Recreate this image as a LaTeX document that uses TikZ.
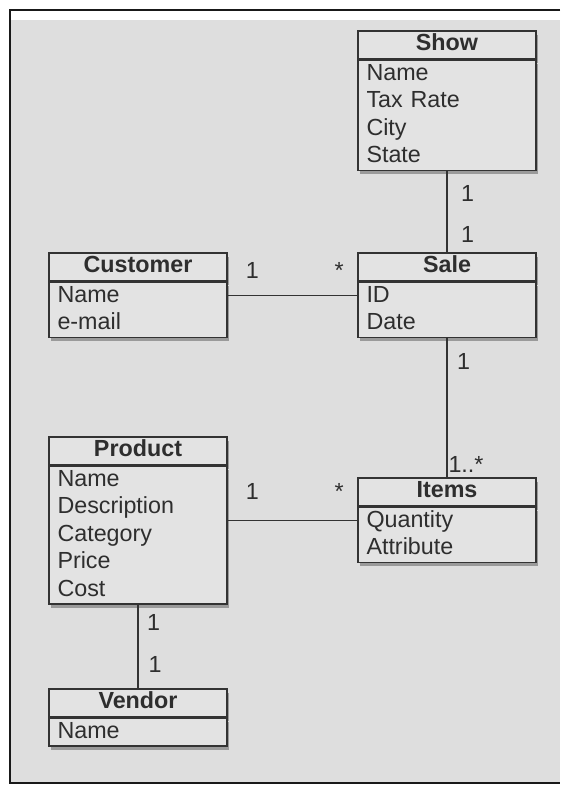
\documentclass[tikz,border=0pt]{standalone}
\usepackage{fontspec}
\setmainfont{Liberation Sans}
\usetikzlibrary{positioning,shadows}

\definecolor{bggray}{HTML}{DEDEDE}
\definecolor{boxgray}{HTML}{E3E3E3}
\definecolor{linegray}{HTML}{333333}
\definecolor{inkgray}{HTML}{2E2E2E}

\begin{document}
\begin{tikzpicture}[x=1pt, y=-1pt,
    every node/.style={font=\fontsize{23.3}{27.5}\selectfont, text=inkgray},
    boxshadow/.style={drop shadow={shadow xshift=1.5pt, shadow yshift=-4pt, opacity=.3, fill=black}},
    classhead/.style={draw=linegray, line width=1.4pt, fill=boxgray, boxshadow,
      minimum width=178pt, minimum height=28pt, inner sep=0pt,
      text height=16pt, text depth=4.5pt,
      font=\fontsize{23.3}{27.5}\selectfont\bfseries},
    classbody/.style={draw=linegray, line width=1.4pt, fill=boxgray, boxshadow,
      text width=161pt, inner xsep=8.5pt, inner ysep=0pt, align=left,
      text height=20pt, text depth=#1},
    link/.style={draw=linegray, line width=1.5pt},
    mult/.style={inner sep=0pt, anchor=base}]
    \useasboundingbox (0,0) rectangle (560,785);

    % Background and frame
    \fill[white] (10,10) rectangle (560,783);
    \fill[bggray] (11,20) rectangle (560,782);
    \draw[line width=2.5pt, black!90] (560,10) -- (10,10) -- (10,783) -- (560,783);

    % Classes
    \node[classhead] (showhead) at (447,45) {Show};
    \node[classbody=90pt, below=0pt of showhead] (showbody) {Name\\Tax Rate\\City\\State};

    \node[classhead] (custhead) at (138,267) {Customer};
    \node[classbody=35pt, below=0pt of custhead] (custbody) {Name\\e-mail};

    \node[classhead] (salehead) at (447,267) {Sale};
    \node[classbody=35pt, below=0pt of salehead] (salebody) {ID\\Date};

    \node[classhead] (prodhead) at (138,451) {Product};
    \node[classbody=117.5pt, below=0pt of prodhead] (prodbody) {Name\\Description\\Category\\Price\\Cost};

    \node[classhead] (itemshead) at (447,492) {Items};
    \node[classbody=35pt, below=0pt of itemshead] (itemsbody) {Quantity\\Attribute};

    \node[classhead] (vendhead) at (138,703) {Vendor};
    \node[classbody=7.5pt, below=0pt of vendhead] (vendbody) {Name};

    % Associations
    \draw[link] (showbody) -- (salehead)
      node[mult, pos=.377, xshift=20.5pt] {1}
      node[mult, pos=.881, xshift=20.5pt] {1};

    \draw[link] ([yshift=-13.75pt]custbody.north east) -- ([yshift=-13.75pt]salebody.north west)
      node[mult, pos=.19, yshift=17pt] {1}
      node[mult, pos=.86, yshift=17pt] {*};

    \draw[link] (salebody) -- (itemshead)
      node[mult, pos=.225, xshift=16.5pt] {1}
      node[mult, pos=.963, xshift=19pt] {1..*};

    \coordinate (itemsrow) at ([yshift=-13.75pt]itemsbody.north west);
    \draw[link] (prodbody.east |- itemsrow) -- (itemsrow)
      node[mult, pos=.19, yshift=20.5pt] {1}
      node[mult, pos=.86, yshift=20.5pt] {*};

    \draw[link] (prodbody) -- (vendhead)
      node[mult, pos=.314, xshift=15.5pt] {1}
      node[mult, pos=.814, xshift=17pt] {1};
  \end{tikzpicture}
\end{document}
